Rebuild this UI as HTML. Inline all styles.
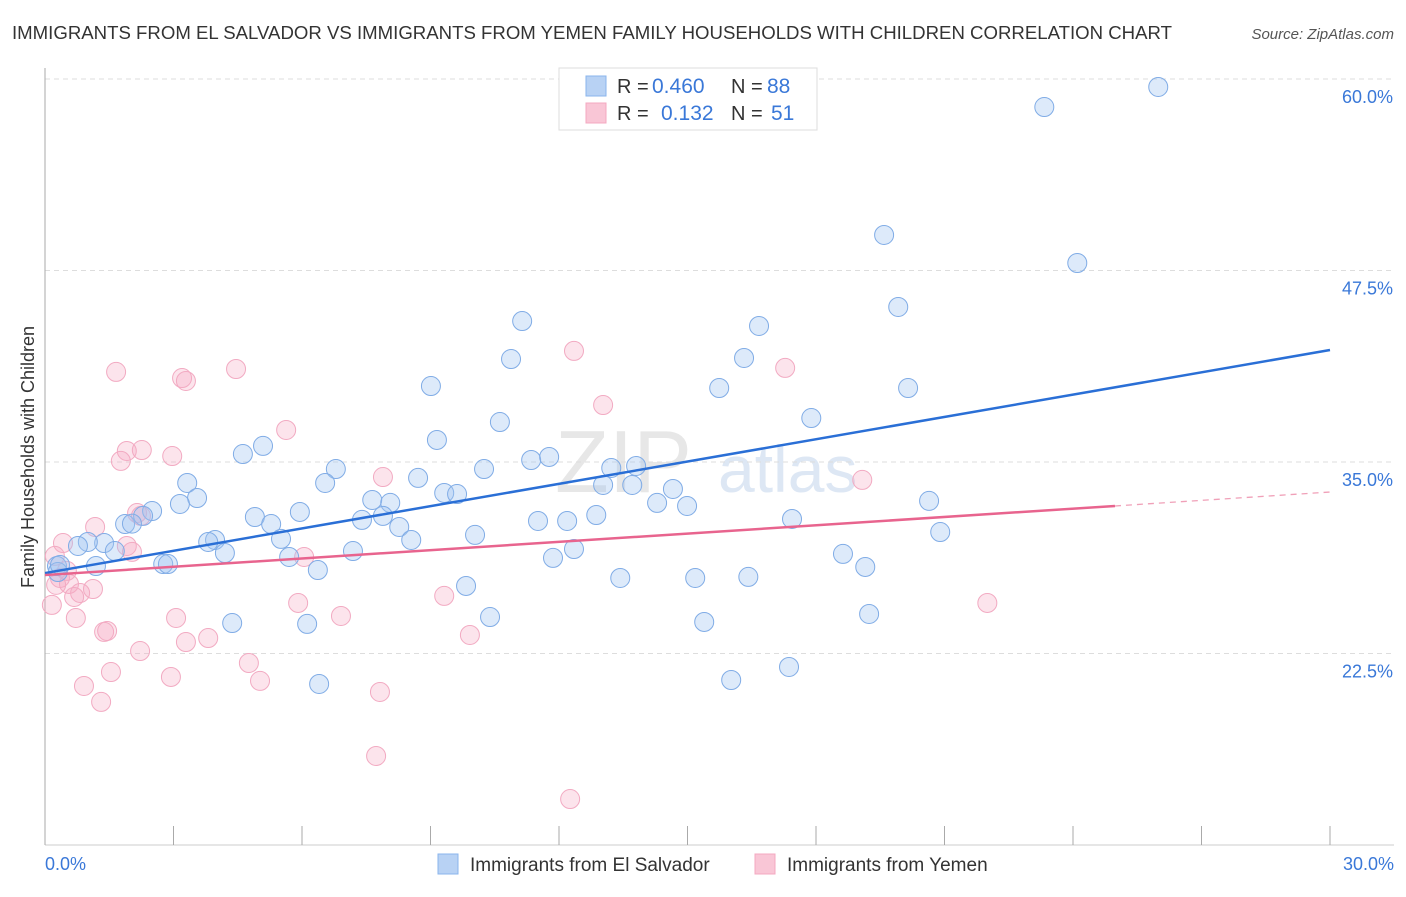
<!DOCTYPE html>
<html><head><meta charset="utf-8"><style>
body{margin:0;background:#fff;font-family:"Liberation Sans",sans-serif;}
svg text{font-family:"Liberation Sans",sans-serif;}
</style></head><body>
<svg id="chart" width="1406" height="892" xmlns="http://www.w3.org/2000/svg">
<text x="12" y="39" font-size="18.6" fill="#333" textLength="1160" lengthAdjust="spacingAndGlyphs">IMMIGRANTS FROM EL SALVADOR VS IMMIGRANTS FROM YEMEN FAMILY HOUSEHOLDS WITH CHILDREN CORRELATION CHART</text>
<text x="1394" y="39" font-size="15" fill="#555" text-anchor="end" font-style="italic">Source: ZipAtlas.com</text>
<text transform="translate(34,457) rotate(-90)" font-size="18" fill="#333" text-anchor="middle">Family Households with Children</text>
<text x="555" y="492" font-size="88" fill="#d8d8d8" font-family="Liberation Serif" opacity="0.6">ZIP</text>
<text x="718" y="492" font-size="66" fill="#c8d8ee" opacity="0.6">atlas</text>
<g id="grid"></g><g id="pts"></g><g id="lines"></g>
<g>
<rect x="559" y="68" width="258" height="62" fill="#fff" stroke="#ddd"/>
<rect x="586" y="76" width="20" height="20" fill="#b8d2f4" stroke="#8ab4ec"/>
<text x="617" y="93" font-size="20" fill="#333">R =</text>
<text x="652" y="93" font-size="21" fill="#3a78d8">0.460</text>
<text x="731" y="93" font-size="20" fill="#333">N =</text>
<text x="767" y="93" font-size="21" fill="#3a78d8">88</text>
<rect x="586" y="103" width="20" height="20" fill="#f9c6d6" stroke="#f4a8c0"/>
<text x="617" y="120" font-size="20" fill="#333">R =</text>
<text x="661" y="120" font-size="21" fill="#3a78d8">0.132</text>
<text x="731" y="120" font-size="20" fill="#333">N =</text>
<text x="771" y="120" font-size="21" fill="#3a78d8">51</text>
</g>
<g>
<rect x="438" y="854" width="20" height="20" fill="#b8d2f4" stroke="#8ab4ec"/>
<text x="470" y="871" font-size="19" fill="#333">Immigrants from El Salvador</text>
<rect x="755" y="854" width="20" height="20" fill="#f9c6d6" stroke="#f4a8c0"/>
<text x="787" y="871" font-size="19" fill="#333">Immigrants from Yemen</text>
</g>
</svg>
<script>
const yTicks=[22.5,35.0,47.5,60.0];
const xTickLabels=["0.0%","30.0%"];
const blueX=[25.99,23.33,19.59,24.10,19.92,16.67,11.14,16.32,10.88,20.15,15.74,9.01,17.89,10.62,9.15,5.09,4.62,11.35,11.77,10.25,6.79,13.22,13.80,8.71,3.32,6.54,13.03,13.71,14.66,9.32,9.62,3.55,3.15,7.64,8.06,14.29,14.99,20.64,2.50,2.29,5.95,4.90,7.89,12.87,7.40,11.51,12.19,17.44,1.87,2.03,5.28,8.27,5.51,3.97,3.81,10.04,20.90,8.55,1.38,1.00,0.77,1.63,4.20,7.19,12.35,5.70,11.86,18.63,2.76,2.87,1.19,0.28,6.37,19.15,13.43,15.18,16.42,9.83,19.24,10.39,4.37,6.12,15.39,17.37,16.02,6.40,0.30,0.35];
const blueY=[59.48,58.17,49.82,47.99,45.12,43.88,44.20,41.79,41.72,39.83,39.83,39.96,37.87,37.61,36.44,36.05,35.52,35.13,35.33,34.54,34.54,34.61,34.74,33.96,33.63,33.63,33.50,33.50,33.24,32.98,32.91,32.65,32.26,32.52,32.33,32.33,32.13,32.46,31.80,31.48,31.74,31.41,31.48,31.54,31.22,31.15,31.15,31.28,30.95,30.98,30.95,30.76,29.98,29.91,29.78,30.24,30.43,29.91,29.71,29.78,29.52,29.19,29.06,29.19,29.32,28.80,28.74,29.00,28.34,28.34,28.21,28.21,27.95,28.15,27.43,27.43,27.50,26.91,25.08,24.88,24.49,24.43,24.56,21.62,20.77,20.51,27.82,28.28];
const pinkX=[1.66,3.20,3.29,4.46,12.35,17.28,13.03,5.63,1.91,1.77,2.26,2.97,7.89,19.08,2.15,2.24,1.17,0.42,1.91,2.03,0.23,6.05,0.51,0.35,0.56,0.26,0.82,0.68,1.12,0.16,5.91,9.32,22.00,0.72,3.06,6.91,1.38,1.45,3.29,3.81,9.92,2.22,4.76,1.54,2.94,0.91,5.02,7.82,1.31,7.73,12.26];
const pinkY=[40.88,40.48,40.29,41.07,42.25,41.14,38.72,37.09,35.72,35.07,35.78,35.39,34.02,33.83,31.67,31.48,30.76,29.71,29.52,29.13,28.87,28.80,27.89,27.43,27.04,26.98,26.45,26.19,26.71,25.67,25.80,26.26,25.80,24.82,24.82,24.95,23.91,23.97,23.25,23.51,23.71,22.66,21.88,21.29,20.97,20.38,20.71,19.99,19.34,15.81,13.00];
const blueTrend=[27.75,42.31];
const pinkTrend=[27.62,32.13,33.04];
const pinkSolidEnd=24.98;
const NS="http://www.w3.org/2000/svg";
const sx=v=>45+v/30*1285;
const sy=v=>79+(60-v)/12.5*191.5;
function mk(tag,attrs,parent){const e=document.createElementNS(NS,tag);for(const k in attrs)e.setAttribute(k,attrs[k]);parent.appendChild(e);return e;}
const grid=document.getElementById('grid'),pts=document.getElementById('pts'),lines=document.getElementById('lines');
yTicks.forEach(t=>{
 const g=mk('line',{x1:45,x2:1394,y1:sy(t),y2:sy(t),stroke:'#ddd','stroke-dasharray':'5,4'},grid);
 
 
 const l=mk('text',{x:1393,y:sy(t)+24,'font-size':18,fill:'#3a78d8','text-anchor':'end'},grid);
 l.textContent=t.toFixed(1)+'%';
 
 
});
const ax=mk('line',{x1:45,x2:45,y1:68,y2:845,stroke:'#aaa'},grid);


const bx=mk('line',{x1:45,x2:1394,y1:845,y2:845,stroke:'#ccc'},grid);


for(let i=0;i<=10;i++){
 const t=mk('line',{x1:sx(i*3),x2:sx(i*3),y1:826,y2:845,stroke:'#aaa'},grid);
 
 
}
[[0,'start',45],[1,'end',1394]].forEach(([i,a,x])=>{
 const l=mk('text',{x:x,y:870,'font-size':18,fill:'#3a78d8','text-anchor':a},grid);
 l.textContent=xTickLabels[i];
 
 
});
pinkX.forEach((x,i)=>{
 const c=mk('circle',{cx:sx(x),cy:sy(pinkY[i]),r:9.5,fill:'rgba(246,170,196,0.32)',stroke:'#f2aac2','stroke-width':1},pts);
 
 
});
blueX.forEach((x,i)=>{
 const c=mk('circle',{cx:sx(x),cy:sy(blueY[i]),r:9.5,fill:'rgba(160,196,240,0.36)',stroke:'#80ace6','stroke-width':1},pts);
 
 
});
const bl=mk('line',{x1:sx(0),y1:sy(blueTrend[0]),x2:sx(30),y2:sy(blueTrend[1]),stroke:'#2a6fd6','stroke-width':2.5},lines);


const pl=mk('line',{x1:sx(0),y1:sy(pinkTrend[0]),x2:sx(pinkSolidEnd),y2:sy(pinkTrend[1]),stroke:'#e8648e','stroke-width':2.5},lines);


const pd=mk('line',{x1:sx(pinkSolidEnd),y1:sy(pinkTrend[1]),x2:sx(30),y2:sy(pinkTrend[2]),stroke:'#f0a0b8','stroke-width':1.3,'stroke-dasharray':'6,5'},lines);


</script>
</body></html>
